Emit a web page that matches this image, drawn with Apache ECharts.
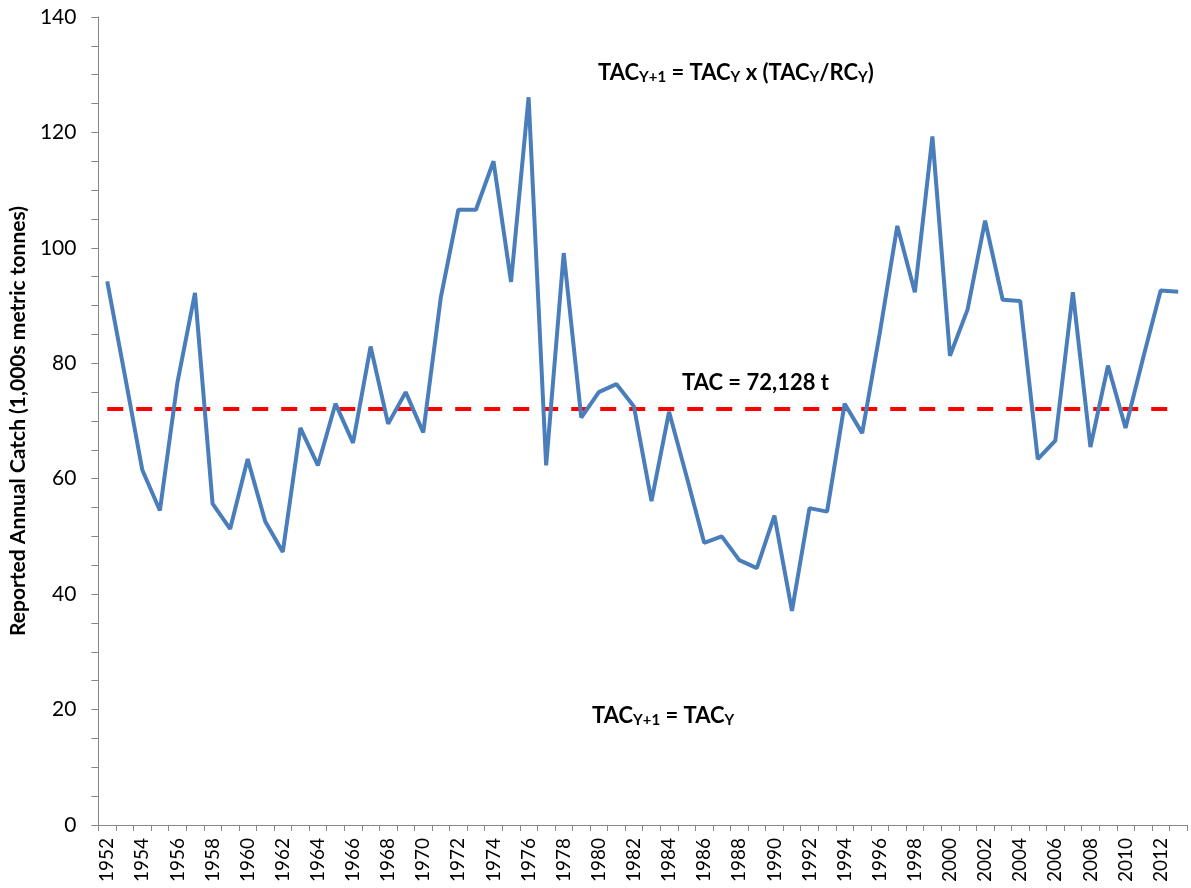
<!DOCTYPE html>
<html>
<head>
<meta charset="utf-8">
<script src="https://cdn.jsdelivr.net/npm/echarts@6/dist/echarts.min.js"></script>
<style>html,body{margin:0;padding:0;background:#fff}#c{width:1191px;height:888px}</style>
</head>
<body>
<div id="c"></div>
<script>
var years = [];
for (var y = 1952; y <= 2013; y++) years.push(String(y));
var catch1000t = [
  94.2, 78.0, 61.5, 54.5, 76.7, 92.2, 55.7, 51.3, 63.4, 52.6,
  47.3, 68.8, 62.3, 73.0, 66.2, 82.9, 69.5, 75.0, 68.0, 91.4,
  106.6, 106.6, 115.0, 94.1, 126.1, 62.3, 99.1, 70.6, 75.0, 76.4,
  72.5, 56.1, 71.6, 60.4, 48.9, 50.0, 45.9, 44.5, 53.6, 37.1,
  54.9, 54.3, 73.0, 67.9, 85.2, 103.8, 92.3, 119.3, 81.3, 89.3,
  104.7, 91.0, 90.8, 63.4, 66.6, 92.3, 65.5, 79.6, 68.8, 80.9,
  92.6, 92.4
];
var tacValue = 72.128;
var yTicks = { min: 0, max: 140, interval: 20 };
var yAxisTitle = 'Reported Annual Catch (1,000s metric tonnes)';

var FONT = 'Lato, "Open Sans", sans-serif';
var chart = echarts.init(document.getElementById('c'), null, { renderer: 'canvas' });
var sub = { fontSize: 15, fontWeight: 'bold', fontFamily: FONT, color: '#000', verticalAlign: 'bottom', lineHeight: 24, padding: [9, 0, 0, 0] };
var main = { fontSize: 22, fontWeight: 'bold', fontFamily: FONT, color: '#000', lineHeight: 24 };

chart.setOption({
  animation: false,
  backgroundColor: '#fff',
  grid: { left: 96, right: 4, top: 17, bottom: 63, containLabel: false },
  xAxis: {
    type: 'category',
    data: years,
    boundaryGap: true,
    axisLine: { show: true, lineStyle: { color: '#868686', width: 1 } },
    axisTick: { show: true, interval: 0, length: 6, lineStyle: { color: '#868686' } },
    axisLabel: { interval: 1, rotate: 90, fontSize: 19, fontFamily: FONT, color: '#000', margin: 13 },
    splitLine: { show: false }
  },
  yAxis: {
    type: 'value',
    min: yTicks.min, max: yTicks.max, interval: yTicks.interval,
    name: yAxisTitle,
    nameLocation: 'middle',
    nameGap: 69,
    nameTextStyle: { fontSize: 21, fontWeight: 'bold', fontFamily: FONT, color: '#000' },
    axisLine: { show: true, lineStyle: { color: '#868686', width: 1 } },
    axisTick: { show: true, length: 7, lineStyle: { color: '#868686' } },
    minorTick: { show: true, splitNumber: 4, length: 7, lineStyle: { color: '#868686' } },
    axisLabel: { fontSize: 21, fontFamily: FONT, color: '#000', margin: 22 },
    splitLine: { show: false }
  },
  series: [{
    type: 'line',
    data: catch1000t,
    symbol: 'none',
    lineStyle: { color: '#4A7EBB', width: 4 },
    itemStyle: { color: '#4A7EBB' },
    z: 3,
    markLine: {
      silent: true,
      symbol: 'none',
      label: { show: false },
      lineStyle: { color: '#FF0000', width: 4, type: [16, 13] },
      data: [[{ coord: [years[0], tacValue] }, { coord: [years[years.length - 1], tacValue] }]],
      z: 2
    }
  }],
  graphic: [
    { type: 'text', left: 598, top: 61, style: { text: '{m|TAC}{s|Y+1}{m| = TAC}{s|Y}{m| x (TAC}{s|Y}{m|/RC}{s|Y}{m|)}', rich: { m: main, s: sub } } },
    { type: 'text', left: 682, top: 372, style: { text: '{m|TAC = 72,128 t}', rich: { m: main } } },
    { type: 'text', left: 592, top: 704, style: { text: '{m|TAC}{s|Y+1}{m| = TAC}{s|Y}', rich: { m: main, s: sub } } }
  ]
});
</script>
</body>
</html>
